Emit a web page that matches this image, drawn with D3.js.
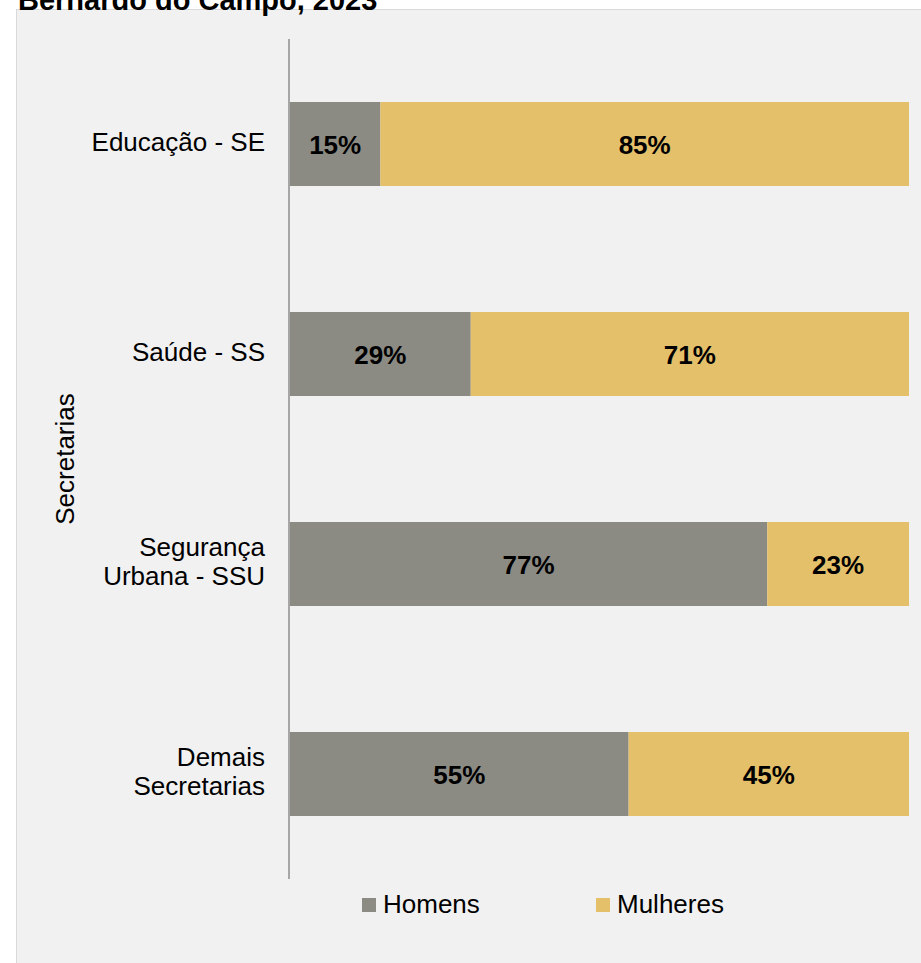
<!DOCTYPE html>
<html><head><meta charset="utf-8">
<script src="https://cdn.jsdelivr.net/npm/d3@7"></script>
<style>
html,body{margin:0;padding:0;background:#fff;}
svg{display:block;font-family:"Liberation Sans",Arial,sans-serif;}
</style></head>
<body>
<svg id="chart" width="921" height="963"></svg>
<script>
const title = "Bernardo do Campo, 2023";
const categories = [["Educação - SE"], ["Saúde - SS"], ["Segurança", "Urbana - SSU"], ["Demais", "Secretarias"]];
const categoryKeys = ["Educação - SE", "Saúde - SS", "Segurança Urbana - SSU", "Demais Secretarias"];
const seriesNames = ["Homens", "Mulheres"];
const homens = [14.6, 29.2, 77.1, 54.7];
const mulheres = [85.4, 70.8, 22.9, 45.3];
const colors = ["#8b8b84", "#e5c06b"];
const axisTitle = "Secretarias";

const svg = d3.select("#chart");
// panel
svg.append("rect").attr("x", 16.5).attr("y", 9.5).attr("width", 1000).attr("height", 1000)
  .attr("fill", "#f1f1f1").attr("stroke", "#d9d9d9").attr("stroke-width", 1);
// title (cut off at top, as in the reference)
svg.append("text").attr("x", 18).attr("y", 9.5).attr("font-size", 29).attr("font-weight", "bold")
  .attr("fill", "#000").text(title);

const y = d3.scaleBand().domain(categoryKeys).range([39, 879]).paddingInner(0.6).paddingOuter(0.3);
const x = d3.scaleLinear().domain([0, 100]).range([290, 909]);

const rows = categoryKeys.map((k, i) => ({key: k, lines: categories[i], vals: [homens[i], mulheres[i]]}));
const stacked = [];
rows.forEach(r => {
  let acc = 0;
  r.vals.forEach((v, s) => { stacked.push({key: r.key, s, x0: acc, x1: acc + v, v}); acc += v; });
});

svg.append("g").selectAll("rect").data(stacked).join("rect")
  .attr("x", d => x(d.x0)).attr("width", d => x(d.x1) - x(d.x0))
  .attr("y", d => y(d.key)).attr("height", y.bandwidth())
  .attr("fill", d => colors[d.s]);

svg.append("g").selectAll("text").data(stacked).join("text")
  .attr("x", d => (x(d.x0) + x(d.x1)) / 2)
  .attr("y", d => y(d.key) + y.bandwidth() / 2 + 9.5)
  .attr("text-anchor", "middle").attr("font-size", 26).attr("font-weight", "bold").attr("fill", "#000")
  .text(d => Math.round(d.v) + "%");

// axis line
svg.append("line").attr("x1", 289).attr("x2", 289).attr("y1", 39).attr("y2", 879)
  .attr("stroke", "#a6a6a6").attr("stroke-width", 2);

// category labels
const lab = svg.append("g").selectAll("text").data(rows).join("text")
  .attr("text-anchor", "end").attr("font-size", 26).attr("fill", "#000");
lab.each(function(d) {
  const c = y(d.key) + y.bandwidth() / 2;
  const n = d.lines.length;
  d3.select(this).selectAll("tspan").data(d.lines).join("tspan")
    .attr("x", 265).attr("y", (t, i) => c + 6.5 + (i - (n - 1) / 2) * 29.5).text(t => t);
});

// axis title
svg.append("text").attr("transform", "translate(74,459) rotate(-90)")
  .attr("text-anchor", "middle").attr("font-size", 26).attr("fill", "#000").text(axisTitle);

// legend
const legX = [362, 596];
const lg = svg.append("g").selectAll("g").data(seriesNames).join("g");
lg.append("rect").attr("x", (d, i) => legX[i]).attr("y", 898).attr("width", 14).attr("height", 14)
  .attr("fill", (d, i) => colors[i]);
lg.append("text").attr("x", (d, i) => legX[i] + 21).attr("y", 912.5).attr("font-size", 26).attr("fill", "#000")
  .text(d => d);
</script>
</body></html>
